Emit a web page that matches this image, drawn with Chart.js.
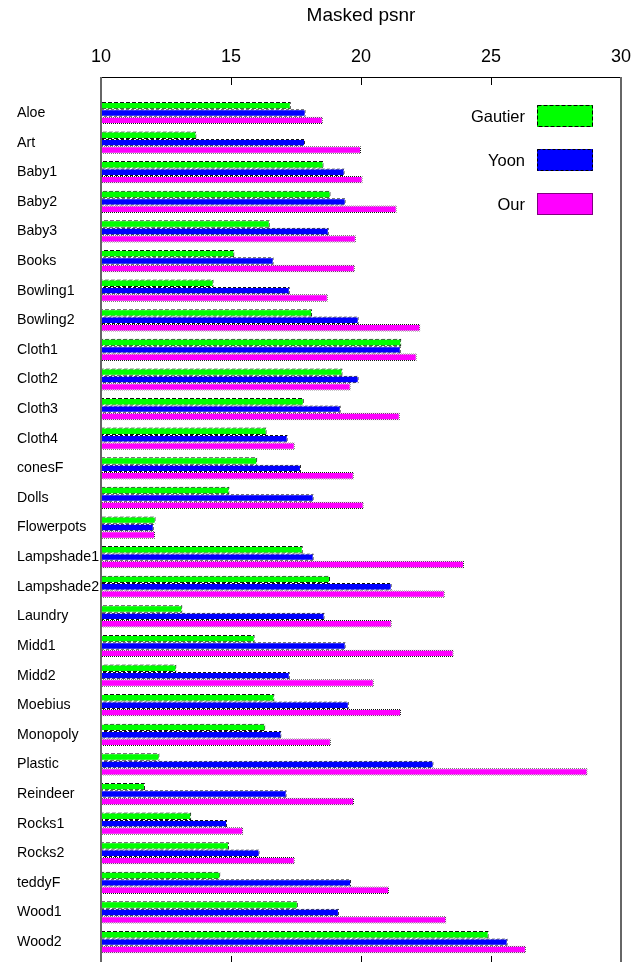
<!DOCTYPE html>
<html lang="en">
<head>
<meta charset="UTF-8">
<title>Masked psnr</title>
<script src="https://cdn.jsdelivr.net/npm/chart.js"></script>
<style>
    html, body { margin: 0; padding: 0; background: #fff; overflow: hidden; }
    #chart { display: block; }
</style>
</head>
<body>
<canvas id="chart" width="632" height="966"></canvas>
<script>
    // scenes, top to bottom
    const scenes = ['Aloe', 'Art', 'Baby1', 'Baby2', 'Baby3', 'Books', 'Bowling1', 'Bowling2',
        'Cloth1', 'Cloth2', 'Cloth3', 'Cloth4', 'conesF', 'Dolls', 'Flowerpots', 'Lampshade1',
        'Lampshade2', 'Laundry', 'Midd1', 'Midd2', 'Moebius', 'Monopoly', 'Plastic', 'Reindeer',
        'Rocks1', 'Rocks2', 'teddyF', 'Wood1', 'Wood2'];

    const gautier = [17.30, 13.67, 18.56, 18.83, 16.49, 15.13, 14.33, 18.12,
        21.55, 19.29, 17.80, 16.37, 16.01, 14.94, 12.10, 17.76,
        18.81, 13.13, 15.91, 12.90, 16.67, 16.32, 12.25, 11.69,
        13.47, 14.92, 14.59, 17.57, 24.91];
    const yoon = [17.87, 17.85, 19.37, 19.41, 18.76, 16.64, 17.26, 19.91,
        21.53, 19.91, 19.22, 17.18, 17.69, 18.18, 12.03, 18.18,
        21.18, 18.60, 19.41, 17.26, 19.53, 16.94, 22.79, 17.14,
        14.85, 16.10, 19.62, 19.15, 25.64];
    const our = [18.53, 20.00, 20.06, 21.37, 19.80, 19.76, 18.72, 22.28,
        22.14, 19.60, 21.49, 17.45, 19.72, 20.10, 12.08, 23.96,
        23.22, 21.18, 23.56, 20.49, 21.54, 18.84, 28.71, 19.73,
        15.47, 17.45, 21.08, 23.28, 26.34];

    const xTicks = [10, 15, 20, 25, 30];

    Chart.defaults.font.family = '"Liberation Sans", Arial, sans-serif';
    Chart.defaults.color = '#000';

    const canvas = document.getElementById('chart');
    const ctx = canvas.getContext('2d');

    // dashed / dotted bar outlines, done with a small tile pattern
    function edgePattern(period, on) {
        const c = document.createElement('canvas');
        c.width = period;
        c.height = period;
        const g = c.getContext('2d');
        g.fillStyle = '#111';
        for (let i = 0; i < period; i++) {
            for (let j = 0; j < period; j++) {
                if ((i + j) % period < on) g.fillRect(i, j, 1, 1);
            }
        }
        return ctx.createPattern(c, 'repeat');
    }

    const legendDash = [[4, 2], [3, 2], [1, 1]];

    function toPoints(values) {
        return values.map((v, i) => ({ x: v, y: i }));
    }

    const frameAndLegend = {
        id: 'frameAndLegend',
        afterDraw(chart) {
            const { ctx, chartArea: a, scales: { x } } = chart;
            ctx.save();

            // inward tick marks, top and bottom
            ctx.strokeStyle = '#000';
            ctx.lineWidth = 1;
            x.ticks.forEach(t => {
                const px = Math.round(x.getPixelForValue(t.value)) + 0.5;
                ctx.beginPath();
                ctx.moveTo(px, a.top);
                ctx.lineTo(px, a.top + 8);
                ctx.moveTo(px, a.bottom);
                ctx.lineTo(px, a.bottom - 8);
                ctx.stroke();
            });

            // border box
            ctx.beginPath();
            ctx.moveTo(a.left, a.top + 0.5);
            ctx.lineTo(a.right, a.top + 0.5);
            ctx.moveTo(a.left, a.bottom - 0.5);
            ctx.lineTo(a.right, a.bottom - 0.5);
            ctx.stroke();
            ctx.strokeStyle = '#666';
            ctx.lineWidth = 2;
            ctx.beginPath();
            ctx.moveTo(a.left, a.top);
            ctx.lineTo(a.left, a.bottom);
            ctx.moveTo(a.right, a.top);
            ctx.lineTo(a.right, a.bottom);
            ctx.stroke();

            // key, top right inside the plot
            ctx.font = '16.5px "Liberation Sans", Arial, sans-serif';
            ctx.textAlign = 'right';
            ctx.textBaseline = 'middle';
            chart.data.datasets.forEach((ds, i) => {
                const top = a.top + 28 + i * 44;
                const left = a.right - 84;
                ctx.fillStyle = ds.backgroundColor;
                ctx.fillRect(left, top, 56, 22);
                ctx.setLineDash(legendDash[i]);
                ctx.strokeStyle = '#000';
                ctx.lineWidth = 1;
                ctx.strokeRect(left + 0.5, top + 0.5, 55, 21);
                ctx.setLineDash([]);
                ctx.fillStyle = '#000';
                ctx.fillText(ds.label, left - 12, top + 12);
            });
            ctx.restore();
        }
    };

    new Chart(ctx, {
        type: 'bar',
        data: {
            datasets: [
                { label: 'Gautier', data: toPoints(gautier), backgroundColor: '#00ff00', borderColor: edgePattern(6, 4) },
                { label: 'Yoon', data: toPoints(yoon), backgroundColor: '#0000ff', borderColor: edgePattern(5, 3) },
                { label: 'Our', data: toPoints(our), backgroundColor: '#ff00ff', borderColor: edgePattern(2, 1) }
            ]
        },
        options: {
            responsive: false,
            devicePixelRatio: 1,
            animation: false,
            indexAxis: 'y',
            layout: { padding: { left: 17, right: 11, top: 0, bottom: 2 } },
            datasets: {
                bar: { categoryPercentage: 0.75, barPercentage: 1, borderWidth: 1, borderSkipped: 'start' }
            },
            plugins: {
                legend: { display: false },
                tooltip: { enabled: false }
            },
            scales: {
                x: {
                    type: 'linear',
                    position: 'top',
                    min: 10,
                    max: 30,
                    afterBuildTicks: s => { s.ticks = xTicks.map(v => ({ value: v })); },
                    afterFit: s => {
                        s.height = 77;
                        s.paddingLeft = 0;
                        s.paddingRight = 0;
                    },
                    grid: { display: false, drawTicks: false },
                    border: { display: false },
                    ticks: { padding: 9, font: { size: 18 } },
                    title: {
                        display: true,
                        text: 'Masked psnr',
                        font: { size: 19 },
                        padding: { top: 4, bottom: 0 }
                    }
                },
                y: {
                    type: 'linear',
                    reverse: true,
                    offset: false,
                    min: -1.216,
                    max: 28.74,
                    afterBuildTicks: s => { s.ticks = scenes.map((_, i) => ({ value: i })); },
                    afterFit: s => {
                        s.width = 84;
                        s.paddingTop = 0;
                        s.paddingBottom = 0;
                    },
                    grid: { display: false, drawTicks: false, offset: false },
                    border: { display: false },
                    ticks: {
                        crossAlign: 'far',
                        autoSkip: false,
                        font: { size: 14.2 },
                        callback: v => scenes[v]
                    }
                }
            }
        },
        plugins: [frameAndLegend]
    });
</script>
</body>
</html>
